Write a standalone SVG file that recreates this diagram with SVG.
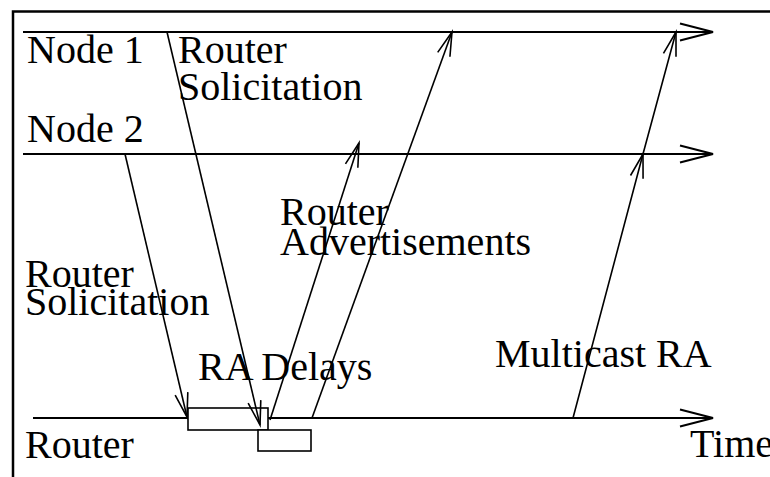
<svg xmlns="http://www.w3.org/2000/svg" width="770" height="477" viewBox="0 0 770 477">
<style>
text{font-family:"Liberation Serif","Times New Roman",serif;font-size:40px;fill:#000}
.ax{stroke:#000;stroke-width:2;fill:none}
.msg{stroke:#000;stroke-width:1.6;fill:none}
.box{stroke:#000;stroke-width:1.6;fill:#fff}
</style>
<defs>
<marker id="ah" markerUnits="userSpaceOnUse" markerWidth="40" markerHeight="24" viewBox="-36 -12 40 24" refX="0" refY="0" orient="auto" overflow="visible">
<path d="M-33,-8.5 L0,0 L-33,8.5" fill="none" stroke="#000" stroke-width="2"/>
</marker>
<marker id="as" markerUnits="userSpaceOnUse" markerWidth="30" markerHeight="20" viewBox="-28 -10 30 20" refX="0" refY="0" orient="auto" overflow="visible">
<path d="M-24,-6.5 L0,0 L-24,6.5" fill="none" stroke="#000" stroke-width="1.6"/>
</marker>
</defs>
<rect x="0" y="0" width="770" height="477" fill="#fff"/>
<path d="M13,477 V11.5 H770" fill="none" stroke="#000" stroke-width="2.5"/>
<g id="timelines">
<g id="node1"><line class="ax" x1="23" y1="32" x2="713" y2="32" marker-end="url(#ah)"/><text x="27" y="63">Node 1</text></g>
<g id="node2"><line class="ax" x1="23" y1="154" x2="713" y2="154" marker-end="url(#ah)"/><text x="27" y="142">Node 2</text></g>
<g id="router"><line class="ax" x1="33" y1="418" x2="713" y2="418" marker-end="url(#ah)"/><text x="25" y="458">Router</text><text x="690" y="457">Time</text></g>
</g>
<g id="delays">
<rect class="box" x="188" y="408" width="80" height="22"/>
<rect class="box" x="258" y="430" width="53" height="21"/>
<text x="198" y="380">RA Delays</text>
</g>
<g id="connectors">
<line class="msg" x1="167" y1="32" x2="260" y2="425" marker-end="url(#as)"/>
<line class="msg" x1="125" y1="154" x2="187" y2="417" marker-end="url(#as)"/>
<line class="msg" x1="270" y1="420" x2="359" y2="143" marker-end="url(#as)"/>
<line class="msg" x1="312" y1="418" x2="452" y2="32" marker-end="url(#as)"/>
<path class="msg" d="M573,418 L643,154 L676,32" marker-mid="url(#as)" marker-end="url(#as)"/>
</g>
<g id="labels">
<text x="178" y="63">Router</text>
<text x="178" y="100">Solicitation</text>
<text x="25" y="287">Router</text>
<text x="25" y="315">Solicitation</text>
<text x="280" y="225">Router</text>
<text x="280" y="255">Advertisements</text>
<text x="495" y="367">Multicast RA</text>
</g>
</svg>
